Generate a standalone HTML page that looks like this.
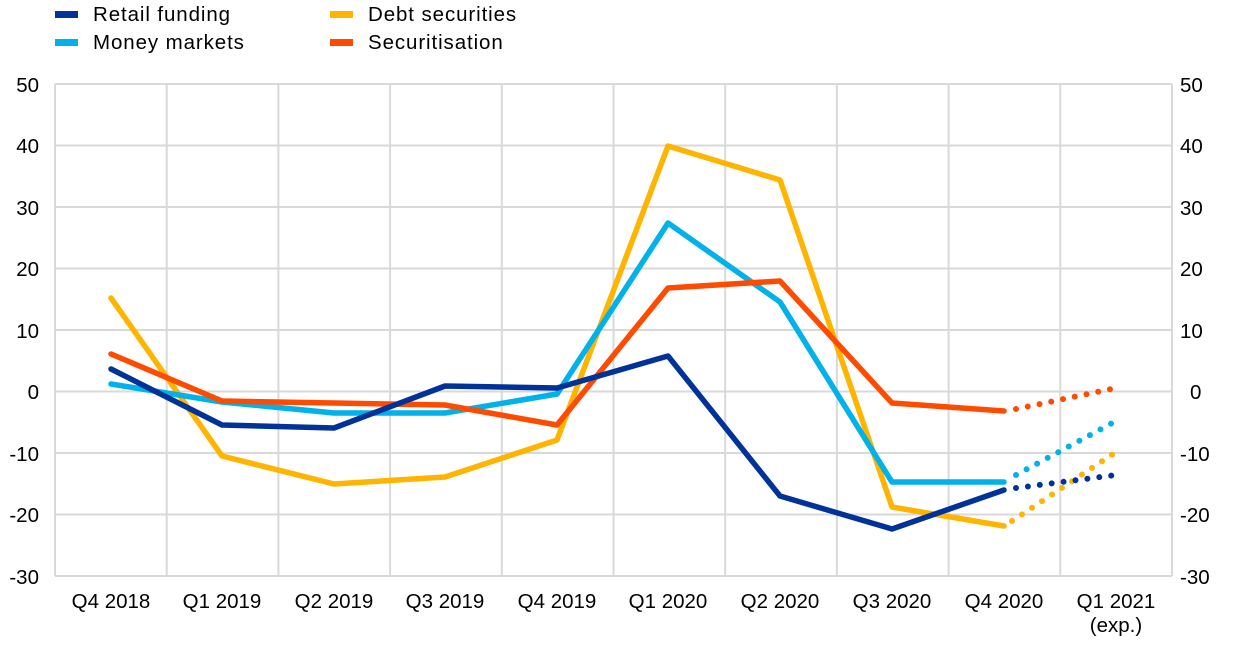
<!DOCTYPE html>
<html><head><meta charset="utf-8"><style>
body{margin:0;background:#fff;}
svg text{font-family:"Liberation Sans",Arial,sans-serif;font-size:20.5px;fill:#000;}
svg text.lg{font-size:20.5px;letter-spacing:0.9px;}
</style></head><body>
<svg width="1240" height="641" viewBox="0 0 1240 641" xmlns="http://www.w3.org/2000/svg">
<rect x="55" y="11" width="23" height="7" fill="#003299"/>
<text class="lg" x="93" y="21">Retail funding</text>
<rect x="55" y="39" width="23" height="7" fill="#00B1EA"/>
<text class="lg" x="93" y="49">Money markets</text>
<rect x="330" y="11" width="23" height="7" fill="#FFB400"/>
<text class="lg" x="368" y="21">Debt securities</text>
<rect x="330" y="39" width="23" height="7" fill="#FF4B00"/>
<text class="lg" x="368" y="49">Securitisation</text>
<g stroke="#d9d9d9" stroke-width="2" fill="none">
<line x1="55" y1="84" x2="1172" y2="84"/>
<line x1="55" y1="145.5" x2="1172" y2="145.5"/>
<line x1="55" y1="207" x2="1172" y2="207"/>
<line x1="55" y1="268.5" x2="1172" y2="268.5"/>
<line x1="55" y1="330" x2="1172" y2="330"/>
<line x1="55" y1="391.5" x2="1172" y2="391.5"/>
<line x1="55" y1="453" x2="1172" y2="453"/>
<line x1="55" y1="514.5" x2="1172" y2="514.5"/>
<line x1="55" y1="576" x2="1172" y2="576"/>
<line x1="55" y1="84" x2="55" y2="576"/>
<line x1="166.7" y1="84" x2="166.7" y2="576"/>
<line x1="278.4" y1="84" x2="278.4" y2="576"/>
<line x1="390.1" y1="84" x2="390.1" y2="576"/>
<line x1="501.8" y1="84" x2="501.8" y2="576"/>
<line x1="613.5" y1="84" x2="613.5" y2="576"/>
<line x1="725.2" y1="84" x2="725.2" y2="576"/>
<line x1="836.9" y1="84" x2="836.9" y2="576"/>
<line x1="948.6" y1="84" x2="948.6" y2="576"/>
<line x1="1060.3" y1="84" x2="1060.3" y2="576"/>
<line x1="1172" y1="84" x2="1172" y2="576"/>
</g>
<g text-anchor="end">
<text x="39" y="92">50</text><text x="39" y="153">40</text><text x="39" y="215">30</text><text x="39" y="276">20</text><text x="39" y="338">10</text><text x="39" y="399">0</text><text x="39" y="461">-10</text><text x="39" y="522">-20</text><text x="39" y="584">-30</text>
</g>
<g>
<text x="1180" y="92">50</text><text x="1180" y="153">40</text><text x="1180" y="215">30</text><text x="1180" y="276">20</text><text x="1180" y="338">10</text><text x="1190" y="399">0</text><text x="1180" y="461">-10</text><text x="1180" y="522">-20</text><text x="1180" y="584">-30</text>
</g>
<g text-anchor="middle">
<text x="111" y="608">Q4 2018</text><text x="222" y="608">Q1 2019</text><text x="334" y="608">Q2 2019</text><text x="445" y="608">Q3 2019</text><text x="557" y="608">Q4 2019</text><text x="668" y="608">Q1 2020</text><text x="780" y="608">Q2 2020</text><text x="892" y="608">Q3 2020</text><text x="1004" y="608">Q4 2020</text><text x="1116" y="608">Q1 2021</text><text x="1116" y="632">(exp.)</text>
</g>
<g fill="none" stroke-width="5.5" stroke-linejoin="round" stroke-linecap="round">
<polyline stroke="#FFB400" points="111,298 222,456 334,484 445,477 557,440 668,146 780,180 892,507 1004,526"/>
<polyline stroke="#00B1EA" points="111,384 222,402 334,413 445,413 557,394 668,223 780,302 892,482 1004,482"/>
<polyline stroke="#FF4B00" points="111,354 222,401 334,403 445,405 557,425 668,288 780,281 892,403 1004,411"/>
<polyline stroke="#003299" points="111,369 222,425 334,428 445,386 557,388 668,356 780,496 892,529 1004,490"/>
</g>
<g fill="none" stroke-width="6" stroke-linecap="round" stroke-dasharray="0 12">
<line stroke="#FF4B00" x1="1016" y1="409" x2="1116" y2="388"/>
<line stroke="#00B1EA" x1="1016" y1="475" x2="1116" y2="421"/>
<line stroke="#FFB400" x1="1012" y1="521" x2="1116" y2="452"/>
<line stroke="#003299" x1="1016" y1="488" x2="1116" y2="475"/>
</g>
</svg>
</body></html>
